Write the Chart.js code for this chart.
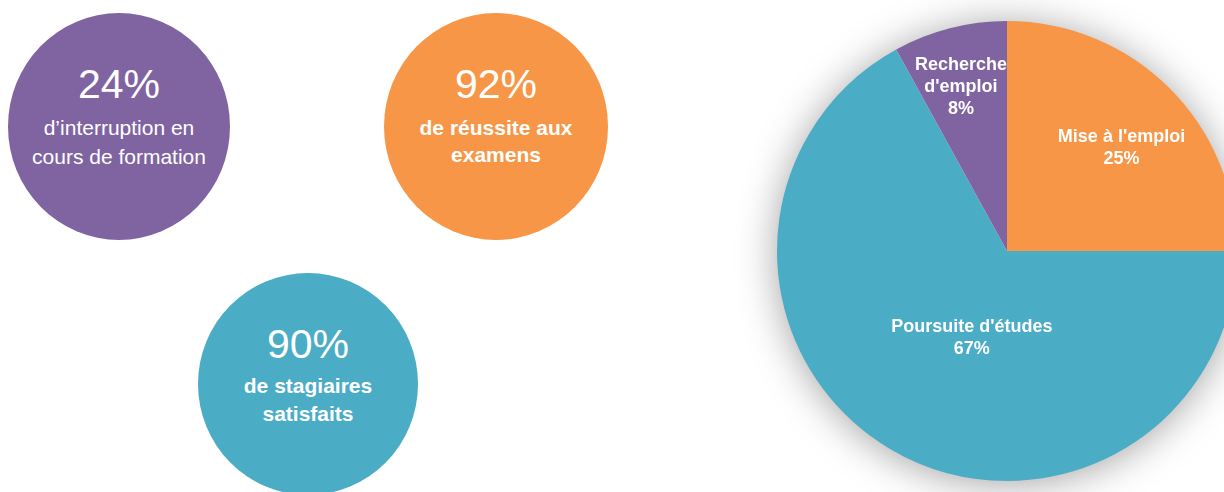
<!DOCTYPE html>
<html lang="fr">
<head>
<meta charset="utf-8">
<title>Indicateurs de formation</title>
<script src="https://cdn.jsdelivr.net/npm/chart.js@4"></script>
<style>
  html, body { margin: 0; padding: 0; background: #fff; }
  body { width: 1224px; height: 492px; overflow: hidden; position: relative;
         font-family: "Liberation Sans", Arial, sans-serif; color: #fff; }
  .bulle { position: absolute; border-radius: 50%; text-align: center; }
  .bulle .chiffre { position: absolute; left: 0; right: 0; font-size: 41px; line-height: 44px; }
  .bulle .texte { position: absolute; left: 0; right: 0; font-size: 21px; }
  .bulle .texte.gras { font-weight: bold; }
  #camembert { position: absolute; left: 727px; top: -29px; }
</style>
</head>
<body>

<div id="bulles"></div>
<canvas id="camembert" width="560" height="560"></canvas>

<script>
// Indicateurs (cercles)
const indicValeurs = [24, 92, 90];
const indicTextes = [
  ['d\u2019interruption en', 'cours de formation'],
  ['de réussite aux', 'examens'],
  ['de stagiaires', 'satisfaits']
];

// Devenir des stagiaires (camembert)
const devenirLabels = [["Mise à l'emploi"], ["Poursuite d'études"], ['Recherche', "d'emploi"]];
const devenirValeurs = [25, 67, 8];

// Couleurs
const violet = '#8064A2';
const orange = '#F79646';
const bleu = '#4BACC6';

// Mise en page des cercles (style uniquement)
const bulleStyles = [
  { x: 8,   y: 13,  w: 222, h: 227, c: violet, gras: false, top: 49, lh: 29, tTop: 100 },
  { x: 384, y: 13,  w: 224, h: 227, c: orange, gras: true,  top: 49, lh: 27, tTop: 101 },
  { x: 198, y: 273, w: 220, h: 222, c: bleu,   gras: true,  top: 49, lh: 28, tTop: 99 }
];

const conteneur = document.getElementById('bulles');
indicValeurs.forEach((v, i) => {
  const s = bulleStyles[i];
  const b = document.createElement('div');
  b.className = 'bulle';
  b.style.cssText = `left:${s.x}px;top:${s.y}px;width:${s.w}px;height:${s.h}px;background:${s.c};`;
  const n = document.createElement('div');
  n.className = 'chiffre';
  n.style.top = s.top + 'px';
  n.textContent = v + '%';
  b.appendChild(n);
  const t = document.createElement('div');
  t.className = 'texte' + (s.gras ? ' gras' : '');
  t.style.top = s.tTop + 'px';
  t.style.lineHeight = s.lh + 'px';
  t.innerHTML = indicTextes[i].join('<br>');
  b.appendChild(t);
  conteneur.appendChild(b);
});

// Ombre portée (halo gris) sous le camembert
const ombrePlugin = {
  id: 'ombre',
  beforeDatasetsDraw(chart) {
    const arc = chart.getDatasetMeta(0).data[0];
    if (!arc) return;
    const { x, y, outerRadius } = arc.getProps(['x', 'y', 'outerRadius'], true);
    const ctx = chart.ctx;
    ctx.save();
    ctx.shadowColor = 'rgba(0,0,0,0.38)';
    ctx.shadowBlur = 40;
    ctx.shadowOffsetX = 0;
    ctx.shadowOffsetY = 3;
    ctx.fillStyle = '#ffffff';
    ctx.beginPath();
    ctx.arc(x, y, outerRadius - 1, 0, Math.PI * 2);
    ctx.fill();
    ctx.restore();
  }
};

// Étiquettes dans les parts (position façon Excel)
const etiqRayon = [0.67, 0.41, 0.74];
const etiqDecalage = [3.0, -8.7, -1.3]; // degrés
const etiquettesPlugin = {
  id: 'etiquettes',
  afterDatasetsDraw(chart) {
    const ctx = chart.ctx;
    const meta = chart.getDatasetMeta(0);
    const total = devenirValeurs.reduce((a, b) => a + b, 0);
    ctx.save();
    ctx.fillStyle = '#fff';
    ctx.font = 'bold 18px "Liberation Sans", Arial, sans-serif';
    ctx.textAlign = 'center';
    ctx.textBaseline = 'middle';
    meta.data.forEach((arc, i) => {
      const p = arc.getProps(['x', 'y', 'startAngle', 'endAngle', 'outerRadius'], true);
      const a = (p.startAngle + p.endAngle) / 2 + etiqDecalage[i] * Math.PI / 180;
      const r = p.outerRadius * etiqRayon[i];
      const cx = p.x + Math.cos(a) * r;
      const cy = p.y + Math.sin(a) * r;
      const lignes = devenirLabels[i].concat([Math.round(devenirValeurs[i] / total * 100) + '%']);
      const lh = 22;
      lignes.forEach((l, k) => {
        ctx.fillText(l, cx, cy + (k - (lignes.length - 1) / 2) * lh);
      });
    });
    ctx.restore();
  }
};

new Chart(document.getElementById('camembert').getContext('2d'), {
  type: 'pie',
  data: {
    labels: devenirLabels.map(l => l.join(' ')),
    datasets: [{
      data: devenirValeurs,
      backgroundColor: [orange, bleu, violet],
      borderWidth: 0
    }]
  },
  options: {
    responsive: false,
    animation: false,
    layout: { padding: 50 },
    plugins: {
      legend: { display: false },
      tooltip: { enabled: false }
    }
  },
  plugins: [ombrePlugin, etiquettesPlugin]
});
</script>
</body>
</html>
